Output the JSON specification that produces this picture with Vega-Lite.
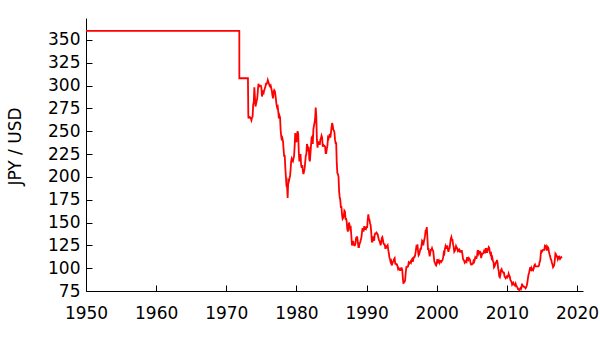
{
  "$schema": "https://vega.github.io/schema/vega-lite/v6.json",
  "width": 497,
  "height": 273,
  "autosize": "none",
  "padding": {"left": 86, "top": 18, "right": 17, "bottom": 52},
  "background": "white",
  "config": {"view": {"stroke": null}, "font": "DejaVu Sans", "axis": {"labelFont": "DejaVu Sans", "titleFont": "DejaVu Sans"}},
  "data": {"values": [
    {"t":"1950-01-01","v":360},{"t":"1971-11-10","v":360},{"t":"1971-11-11","v":308},{"t":"1973-02-01","v":308},
    {"t":"1973-02-20","v":268},{"t":"1973-03","v":264},{"t":"1973-04","v":266},{"t":"1973-05","v":265},{"t":"1973-06","v":265},{"t":"1973-07","v":264},{"t":"1973-08","v":262},{"t":"1973-09","v":265},{"t":"1973-10","v":266},{"t":"1973-11","v":279},{"t":"1973-12","v":282},
    {"t":"1974-01","v":298},{"t":"1974-02","v":287},{"t":"1974-03","v":277},{"t":"1974-04","v":280},{"t":"1974-05","v":283},{"t":"1974-06","v":286},{"t":"1974-07","v":294},{"t":"1974-08","v":302},{"t":"1974-09","v":299},{"t":"1974-10","v":300},{"t":"1974-11","v":300},{"t":"1974-12","v":300},
    {"t":"1975-01","v":298},{"t":"1975-02","v":288},{"t":"1975-03","v":291},{"t":"1975-04","v":293},{"t":"1975-05","v":292},{"t":"1975-06","v":295},{"t":"1975-07","v":297},{"t":"1975-08","v":299},{"t":"1975-09","v":302},{"t":"1975-10","v":302},{"t":"1975-11","v":303},{"t":"1975-12","v":306},
    {"t":"1976-01","v":304},{"t":"1976-02","v":302},{"t":"1976-03","v":300},{"t":"1976-04","v":299},{"t":"1976-05","v":300},{"t":"1976-06","v":297},{"t":"1976-07","v":294},{"t":"1976-08","v":289},{"t":"1976-09","v":286},{"t":"1976-10","v":293},{"t":"1976-11","v":295},{"t":"1976-12","v":294},
    {"t":"1977-01","v":290},{"t":"1977-02","v":284},{"t":"1977-03","v":279},{"t":"1977-04","v":276},{"t":"1977-05","v":277},{"t":"1977-06","v":271},{"t":"1977-07","v":264},{"t":"1977-08","v":267},{"t":"1977-09","v":265},{"t":"1977-10","v":251},{"t":"1977-11","v":244},{"t":"1977-12","v":240},
    {"t":"1978-01","v":242},{"t":"1978-02","v":239},{"t":"1978-03","v":231},{"t":"1978-04","v":222},{"t":"1978-05","v":224},{"t":"1978-06","v":210},{"t":"1978-07","v":200},{"t":"1978-08","v":190},{"t":"1978-09","v":189},{"t":"1978-10","v":177},{"t":"1978-11","v":196},{"t":"1978-12","v":195},
    {"t":"1979-01","v":198},{"t":"1979-02","v":201},{"t":"1979-03","v":207},{"t":"1979-04","v":217},{"t":"1979-05","v":220},{"t":"1979-06","v":218},{"t":"1979-07","v":217},{"t":"1979-08","v":220},{"t":"1979-09","v":223},{"t":"1979-10","v":234},{"t":"1979-11","v":248},{"t":"1979-12","v":240},
    {"t":"1980-01","v":238},{"t":"1980-02","v":246},{"t":"1980-03","v":250},{"t":"1980-04","v":247},{"t":"1980-05","v":228},{"t":"1980-06","v":217},{"t":"1980-07","v":222},{"t":"1980-08","v":225},{"t":"1980-09","v":213},{"t":"1980-10","v":210},{"t":"1980-11","v":213},{"t":"1980-12","v":206},
    {"t":"1981-01","v":203},{"t":"1981-02","v":206},{"t":"1981-03","v":209},{"t":"1981-04","v":216},{"t":"1981-05","v":223},{"t":"1981-06","v":225},{"t":"1981-07","v":236},{"t":"1981-08","v":234},{"t":"1981-09","v":228},{"t":"1981-10","v":233},{"t":"1981-11","v":219},{"t":"1981-12","v":217},
    {"t":"1982-01","v":226},{"t":"1982-02","v":235},{"t":"1982-03","v":243},{"t":"1982-04","v":244},{"t":"1982-05","v":236},{"t":"1982-06","v":252},{"t":"1982-07","v":256},{"t":"1982-08","v":259},{"t":"1982-09","v":264},{"t":"1982-10","v":276},{"t":"1982-11","v":266},{"t":"1982-12","v":241},
    {"t":"1983-01","v":232},{"t":"1983-02","v":237},{"t":"1983-03","v":238},{"t":"1983-04","v":238},{"t":"1983-05","v":235},{"t":"1983-06","v":241},{"t":"1983-07","v":242},{"t":"1983-08","v":245},{"t":"1983-09","v":243},{"t":"1983-10","v":233},{"t":"1983-11","v":235},{"t":"1983-12","v":234},
    {"t":"1984-01","v":234},{"t":"1984-02","v":233},{"t":"1984-03","v":226},{"t":"1984-04","v":226},{"t":"1984-05","v":231},{"t":"1984-06","v":234},{"t":"1984-07","v":243},{"t":"1984-08","v":242},{"t":"1984-09","v":245},{"t":"1984-10","v":247},{"t":"1984-11","v":243},{"t":"1984-12","v":248},
    {"t":"1985-01","v":254},{"t":"1985-02","v":259},{"t":"1985-03","v":257},{"t":"1985-04","v":252},{"t":"1985-05","v":251},{"t":"1985-06","v":249},{"t":"1985-07","v":241},{"t":"1985-08","v":237},{"t":"1985-09","v":237},{"t":"1985-10","v":215},{"t":"1985-11","v":204},{"t":"1985-12","v":203},
    {"t":"1986-01","v":200},{"t":"1986-02","v":184},{"t":"1986-03","v":178},{"t":"1986-04","v":175},{"t":"1986-05","v":167},{"t":"1986-06","v":167},{"t":"1986-07","v":159},{"t":"1986-08","v":154},{"t":"1986-09","v":155},{"t":"1986-10","v":157},{"t":"1986-11","v":163},{"t":"1986-12","v":162},
    {"t":"1987-01","v":154},{"t":"1987-02","v":154},{"t":"1987-03","v":151},{"t":"1987-04","v":143},{"t":"1987-05","v":140},{"t":"1987-06","v":145},{"t":"1987-07","v":150},{"t":"1987-08","v":147},{"t":"1987-09","v":143},{"t":"1987-10","v":144},{"t":"1987-11","v":135},{"t":"1987-12","v":125},
    {"t":"1988-01","v":127},{"t":"1988-02","v":130},{"t":"1988-03","v":126},{"t":"1988-04","v":125},{"t":"1988-05","v":125},{"t":"1988-06","v":127},{"t":"1988-07","v":133},{"t":"1988-08","v":134},{"t":"1988-09","v":134},{"t":"1988-10","v":129},{"t":"1988-11","v":123},{"t":"1988-12","v":123},
    {"t":"1989-01","v":127},{"t":"1989-02","v":128},{"t":"1989-03","v":131},{"t":"1989-04","v":133},{"t":"1989-05","v":138},{"t":"1989-06","v":144},{"t":"1989-07","v":141},{"t":"1989-08","v":141},{"t":"1989-09","v":146},{"t":"1989-10","v":142},{"t":"1989-11","v":144},{"t":"1989-12","v":143},
    {"t":"1990-01","v":145},{"t":"1990-02","v":145},{"t":"1990-03","v":153},{"t":"1990-04","v":159},{"t":"1990-05","v":154},{"t":"1990-06","v":153},{"t":"1990-07","v":149},{"t":"1990-08","v":147},{"t":"1990-09","v":139},{"t":"1990-10","v":129},{"t":"1990-11","v":129},{"t":"1990-12","v":134},
    {"t":"1991-01","v":134},{"t":"1991-02","v":130},{"t":"1991-03","v":137},{"t":"1991-04","v":138},{"t":"1991-05","v":138},{"t":"1991-06","v":139},{"t":"1991-07","v":138},{"t":"1991-08","v":137},{"t":"1991-09","v":134},{"t":"1991-10","v":131},{"t":"1991-11","v":130},{"t":"1991-12","v":128},
    {"t":"1992-01","v":125},{"t":"1992-02","v":128},{"t":"1992-03","v":133},{"t":"1992-04","v":134},{"t":"1992-05","v":131},{"t":"1992-06","v":127},{"t":"1992-07","v":126},{"t":"1992-08","v":126},{"t":"1992-09","v":122},{"t":"1992-10","v":122},{"t":"1992-11","v":124},{"t":"1992-12","v":124},
    {"t":"1993-01","v":125},{"t":"1993-02","v":120},{"t":"1993-03","v":117},{"t":"1993-04","v":112},{"t":"1993-05","v":110},{"t":"1993-06","v":107},{"t":"1993-07","v":108},{"t":"1993-08","v":103},{"t":"1993-09","v":105},{"t":"1993-10","v":107},{"t":"1993-11","v":108},{"t":"1993-12","v":110},
    {"t":"1994-01","v":111},{"t":"1994-02","v":105},{"t":"1994-03","v":105},{"t":"1994-04","v":104},{"t":"1994-05","v":104},{"t":"1994-06","v":102},{"t":"1994-07","v":99},{"t":"1994-08","v":100},{"t":"1994-09","v":99},{"t":"1994-10","v":98},{"t":"1994-11","v":98},{"t":"1994-12","v":100},
    {"t":"1995-01","v":100},{"t":"1995-02","v":98},{"t":"1995-03","v":90},{"t":"1995-04","v":83},{"t":"1995-05","v":85},{"t":"1995-06","v":85},{"t":"1995-07","v":87},{"t":"1995-08","v":95},{"t":"1995-09","v":101},{"t":"1995-10","v":101},{"t":"1995-11","v":102},{"t":"1995-12","v":102},
    {"t":"1996-01","v":106},{"t":"1996-02","v":105},{"t":"1996-03","v":106},{"t":"1996-04","v":107},{"t":"1996-05","v":106},{"t":"1996-06","v":109},{"t":"1996-07","v":110},{"t":"1996-08","v":107},{"t":"1996-09","v":110},{"t":"1996-10","v":112},{"t":"1996-11","v":112},{"t":"1996-12","v":114},
    {"t":"1997-01","v":118},{"t":"1997-02","v":123},{"t":"1997-03","v":122},{"t":"1997-04","v":126},{"t":"1997-05","v":119},{"t":"1997-06","v":114},{"t":"1997-07","v":115},{"t":"1997-08","v":118},{"t":"1997-09","v":121},{"t":"1997-10","v":121},{"t":"1997-11","v":125},{"t":"1997-12","v":130},
    {"t":"1998-01","v":129},{"t":"1998-02","v":125},{"t":"1998-03","v":129},{"t":"1998-04","v":132},{"t":"1998-05","v":135},{"t":"1998-06","v":141},{"t":"1998-07","v":141},{"t":"1998-08","v":145},{"t":"1998-09","v":134},{"t":"1998-10","v":121},{"t":"1998-11","v":121},{"t":"1998-12","v":117},
    {"t":"1999-01","v":113},{"t":"1999-02","v":117},{"t":"1999-03","v":120},{"t":"1999-04","v":120},{"t":"1999-05","v":122},{"t":"1999-06","v":120},{"t":"1999-07","v":119},{"t":"1999-08","v":113},{"t":"1999-09","v":107},{"t":"1999-10","v":106},{"t":"1999-11","v":104},{"t":"1999-12","v":103},
    {"t":"2000-01","v":105},{"t":"2000-02","v":110},{"t":"2000-03","v":106},{"t":"2000-04","v":106},{"t":"2000-05","v":108},{"t":"2000-06","v":106},{"t":"2000-07","v":108},{"t":"2000-08","v":108},{"t":"2000-09","v":107},{"t":"2000-10","v":108},{"t":"2000-11","v":109},{"t":"2000-12","v":112},
    {"t":"2001-01","v":117},{"t":"2001-02","v":116},{"t":"2001-03","v":121},{"t":"2001-04","v":124},{"t":"2001-05","v":122},{"t":"2001-06","v":122},{"t":"2001-07","v":125},{"t":"2001-08","v":121},{"t":"2001-09","v":118},{"t":"2001-10","v":121},{"t":"2001-11","v":122},{"t":"2001-12","v":127},
    {"t":"2002-01","v":132},{"t":"2002-02","v":134},{"t":"2002-03","v":131},{"t":"2002-04","v":131},{"t":"2002-05","v":126},{"t":"2002-06","v":123},{"t":"2002-07","v":118},{"t":"2002-08","v":119},{"t":"2002-09","v":121},{"t":"2002-10","v":124},{"t":"2002-11","v":122},{"t":"2002-12","v":122},
    {"t":"2003-01","v":119},{"t":"2003-02","v":120},{"t":"2003-03","v":119},{"t":"2003-04","v":120},{"t":"2003-05","v":118},{"t":"2003-06","v":118},{"t":"2003-07","v":119},{"t":"2003-08","v":119},{"t":"2003-09","v":115},{"t":"2003-10","v":110},{"t":"2003-11","v":109},{"t":"2003-12","v":108},
    {"t":"2004-01","v":106},{"t":"2004-02","v":107},{"t":"2004-03","v":108},{"t":"2004-04","v":107},{"t":"2004-05","v":112},{"t":"2004-06","v":110},{"t":"2004-07","v":109},{"t":"2004-08","v":111},{"t":"2004-09","v":110},{"t":"2004-10","v":109},{"t":"2004-11","v":105},{"t":"2004-12","v":104},
    {"t":"2005-01","v":104},{"t":"2005-02","v":105},{"t":"2005-03","v":105},{"t":"2005-04","v":108},{"t":"2005-05","v":107},{"t":"2005-06","v":109},{"t":"2005-07","v":112},{"t":"2005-08","v":111},{"t":"2005-09","v":111},{"t":"2005-10","v":114},{"t":"2005-11","v":119},{"t":"2005-12","v":119},
    {"t":"2006-01","v":116},{"t":"2006-02","v":118},{"t":"2006-03","v":118},{"t":"2006-04","v":117},{"t":"2006-05","v":111},{"t":"2006-06","v":114},{"t":"2006-07","v":116},{"t":"2006-08","v":116},{"t":"2006-09","v":117},{"t":"2006-10","v":119},{"t":"2006-11","v":117},{"t":"2006-12","v":117},
    {"t":"2007-01","v":121},{"t":"2007-02","v":121},{"t":"2007-03","v":117},{"t":"2007-04","v":119},{"t":"2007-05","v":121},{"t":"2007-06","v":123},{"t":"2007-07","v":122},{"t":"2007-08","v":117},{"t":"2007-09","v":115},{"t":"2007-10","v":116},{"t":"2007-11","v":111},{"t":"2007-12","v":112},
    {"t":"2008-01","v":108},{"t":"2008-02","v":107},{"t":"2008-03","v":101},{"t":"2008-04","v":102},{"t":"2008-05","v":104},{"t":"2008-06","v":106},{"t":"2008-07","v":106},{"t":"2008-08","v":109},{"t":"2008-09","v":106},{"t":"2008-10","v":100},{"t":"2008-11","v":97},{"t":"2008-12","v":91},
    {"t":"2009-01","v":90},{"t":"2009-02","v":93},{"t":"2009-03","v":98},{"t":"2009-04","v":99},{"t":"2009-05","v":97},{"t":"2009-06","v":96},{"t":"2009-07","v":95},{"t":"2009-08","v":95},{"t":"2009-09","v":91},{"t":"2009-10","v":90},{"t":"2009-11","v":89},{"t":"2009-12","v":90},
    {"t":"2010-01","v":91},{"t":"2010-02","v":90},{"t":"2010-03","v":91},{"t":"2010-04","v":94},{"t":"2010-05","v":92},{"t":"2010-06","v":91},{"t":"2010-07","v":87},{"t":"2010-08","v":86},{"t":"2010-09","v":85},{"t":"2010-10","v":82},{"t":"2010-11","v":83},{"t":"2010-12","v":84},
    {"t":"2011-01","v":82},{"t":"2011-02","v":82},{"t":"2011-03","v":81},{"t":"2011-04","v":83},{"t":"2011-05","v":81},{"t":"2011-06","v":80},{"t":"2011-07","v":79},{"t":"2011-08","v":77},{"t":"2011-09","v":77},{"t":"2011-10","v":76},{"t":"2011-11","v":77},{"t":"2011-12","v":78},
    {"t":"2012-01","v":77},{"t":"2012-02","v":79},{"t":"2012-03","v":83},{"t":"2012-04","v":81},{"t":"2012-05","v":80},{"t":"2012-06","v":80},{"t":"2012-07","v":79},{"t":"2012-08","v":79},{"t":"2012-09","v":78},{"t":"2012-10","v":79},{"t":"2012-11","v":81},{"t":"2012-12","v":84},
    {"t":"2013-01","v":89},{"t":"2013-02","v":93},{"t":"2013-03","v":95},{"t":"2013-04","v":98},{"t":"2013-05","v":101},{"t":"2013-06","v":97},{"t":"2013-07","v":100},{"t":"2013-08","v":98},{"t":"2013-09","v":99},{"t":"2013-10","v":98},{"t":"2013-11","v":100},{"t":"2013-12","v":103},
    {"t":"2014-01","v":104},{"t":"2014-02","v":102},{"t":"2014-03","v":102},{"t":"2014-04","v":102},{"t":"2014-05","v":102},{"t":"2014-06","v":102},{"t":"2014-07","v":102},{"t":"2014-08","v":103},{"t":"2014-09","v":107},{"t":"2014-10","v":108},{"t":"2014-11","v":116},{"t":"2014-12","v":120},
    {"t":"2015-01","v":118},{"t":"2015-02","v":119},{"t":"2015-03","v":120},{"t":"2015-04","v":120},{"t":"2015-05","v":120},{"t":"2015-06","v":124},{"t":"2015-07","v":123},{"t":"2015-08","v":124},{"t":"2015-09","v":120},{"t":"2015-10","v":120},{"t":"2015-11","v":123},{"t":"2015-12","v":122},
    {"t":"2016-01","v":118},{"t":"2016-02","v":115},{"t":"2016-03","v":113},{"t":"2016-04","v":110},{"t":"2016-05","v":109},{"t":"2016-06","v":106},{"t":"2016-07","v":104},{"t":"2016-08","v":101},{"t":"2016-09","v":102},{"t":"2016-10","v":104},{"t":"2016-11","v":109},{"t":"2016-12","v":116},
    {"t":"2017-01","v":115},{"t":"2017-02","v":113},{"t":"2017-03","v":113},{"t":"2017-04","v":110},{"t":"2017-05","v":112},{"t":"2017-06","v":111},{"t":"2017-07","v":112},{"t":"2017-08","v":110},{"t":"2017-09","v":111},{"t":"2017-10","v":112},{"t":"2017-11","v":111}
  ]},
  "mark": {"type": "line", "color": "#ff0000", "strokeWidth": 1.8, "clip": true},
  "encoding": {
    "x": {
      "field": "t", "type": "temporal",
      "scale": {"type": "utc", "domain": [{"year": 1950, "month": 1, "date": 1, "utc": true}, {"year": 2020, "month": 11, "date": 7, "utc": true}], "nice": false},
      "axis": {
        "title": null, "format": "%Y", "formatType": "utc",
        "values": [{"year":1950,"utc":true},{"year":1960,"utc":true},{"year":1970,"utc":true},{"year":1980,"utc":true},{"year":1990,"utc":true},{"year":2000,"utc":true},{"year":2010,"utc":true},{"year":2020,"utc":true}],
        "grid": false, "domainColor": "black", "domainWidth": 1, "tickColor": "black", "tickSize": -6, "tickWidth": 1,
        "labelFontSize": 17, "labelColor": "black", "labelPadding": 20, "labelFlush": false, "labelOverlap": false
      }
    },
    "y": {
      "field": "v", "type": "quantitative",
      "scale": {"domain": [75, 374], "nice": false, "zero": false},
      "axis": {
        "title": "JPY / USD", "values": [75,100,125,150,175,200,225,250,275,300,325,350],
        "grid": false, "domainColor": "black", "domainWidth": 1, "tickColor": "black", "tickSize": -6, "tickWidth": 1,
        "labelFontSize": 17, "labelColor": "black", "labelPadding": 12, "labelFlush": false, "labelOverlap": false,
        "titleFontSize": 17, "titleFontWeight": "normal", "titleColor": "black", "titleAngle": -90,
        "titleX": -71, "titleY": 128, "titleAlign": "center", "titleBaseline": "middle"
      }
    }
  }
}
